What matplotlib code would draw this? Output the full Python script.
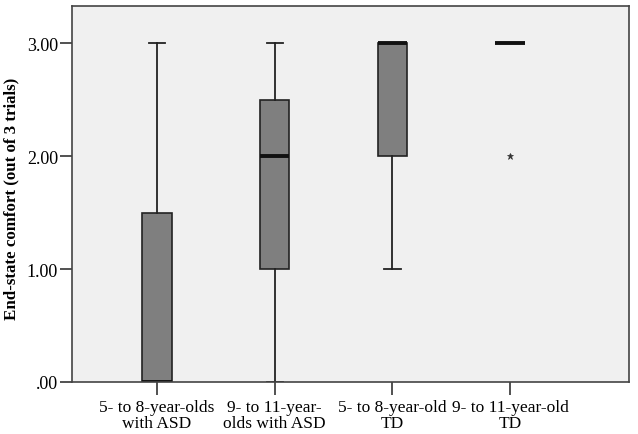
import matplotlib
matplotlib.use("Agg")
import matplotlib.pyplot as plt

# groups and box summary values
grupos = ["5- to 8-year-olds\nwith ASD", "9- to 11-year-\nolds with ASD",
          "5- to 8-year-old\nTD", "9- to 11-year-old\nTD"]
q1 = [0.0, 1.0, 2.0, 3.0]
mediana = [0.0, 2.0, 3.0, 3.0]
q3 = [1.5, 2.5, 3.0, 3.0]
bigode_baixo = [0.0, 0.0, 1.0, 3.0]
bigode_alto = [3.0, 3.0, 3.0, 3.0]
outliers = [[], [], [], [2.0]]

plt.rcParams['font.family'] = ['Liberation Serif', 'DejaVu Serif']

fig = plt.figure(figsize=(6.38, 4.35), dpi=100)
ax = fig.add_axes([72/638, 1 - 383/435, (629-72)/638, (383-7)/435])
ax.set_facecolor('#f0f0f0')

stats = []
for i in range(len(grupos)):
    stats.append({'q1': q1[i], 'med': mediana[i], 'q3': q3[i],
                  'whislo': bigode_baixo[i], 'whishi': bigode_alto[i],
                  'fliers': outliers[i], 'label': grupos[i]})

ax.bxp(stats, positions=[1, 2, 3, 4], widths=0.25, patch_artist=True,
       boxprops=dict(facecolor='#7f7f7f', edgecolor='#222222', linewidth=1.2),
       medianprops=dict(color='#111111', linewidth=2.8),
       whiskerprops=dict(color='#222222', linewidth=1.3),
       capprops=dict(color='#222222', linewidth=1.3),
       capwidths=0.14,
       flierprops=dict(marker='*', markersize=5, markerfacecolor='#333333',
                       markeredgecolor='#333333', markeredgewidth=0.5,
                       linestyle='none'))

ax.set_xlim(0.277, 5.01)
ax.set_ylim(0, 3.33)
ax.set_yticks([0, 1, 2, 3])
ax.set_yticklabels(['.00', '1.00', '2.00', '3.00'], fontsize=13)
ax.set_xticks([1, 2, 3, 4])
ax.set_xticklabels(grupos, fontsize=12.5, linespacing=1.0)
ax.tick_params(axis='both', length=9, width=1.2, color='#333333', direction='out')
ax.tick_params(axis='x', pad=3)
ax.tick_params(axis='y', pad=1)
for s in ax.spines.values():
    s.set_color('#444444')
    s.set_linewidth(1.2)

ax.set_ylabel('End-state comfort (out of 3 trials)', fontsize=12.2,
              fontweight='bold')
ax.yaxis.set_label_coords(-0.095, 0.49)

fig.savefig('out.png', dpi=100)
